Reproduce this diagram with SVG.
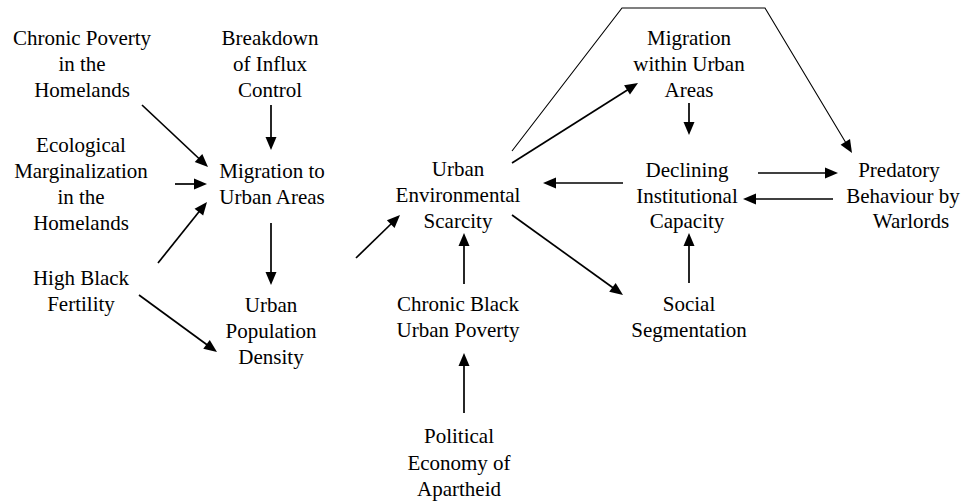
<svg xmlns="http://www.w3.org/2000/svg" width="976" height="503" viewBox="0 0 976 503">
<rect width="976" height="503" fill="#fff"/>
<g id="chronic-poverty"><text font-family="'Liberation Serif', 'Times New Roman', serif" font-size="21" text-anchor="middle" x="82" y="45">Chronic Poverty</text><text font-family="'Liberation Serif', 'Times New Roman', serif" font-size="21" text-anchor="middle" x="82" y="71">in the</text><text font-family="'Liberation Serif', 'Times New Roman', serif" font-size="21" text-anchor="middle" x="82" y="97">Homelands</text></g>
<g id="breakdown"><text font-family="'Liberation Serif', 'Times New Roman', serif" font-size="21" text-anchor="middle" x="270" y="45">Breakdown</text><text font-family="'Liberation Serif', 'Times New Roman', serif" font-size="21" text-anchor="middle" x="270" y="71">of Influx</text><text font-family="'Liberation Serif', 'Times New Roman', serif" font-size="21" text-anchor="middle" x="270" y="97">Control</text></g>
<g id="ecological"><text font-family="'Liberation Serif', 'Times New Roman', serif" font-size="21" text-anchor="middle" x="81" y="152">Ecological</text><text font-family="'Liberation Serif', 'Times New Roman', serif" font-size="21" text-anchor="middle" x="81" y="178">Marginalization</text><text font-family="'Liberation Serif', 'Times New Roman', serif" font-size="21" text-anchor="middle" x="81" y="204">in the</text><text font-family="'Liberation Serif', 'Times New Roman', serif" font-size="21" text-anchor="middle" x="81" y="230">Homelands</text></g>
<g id="migration-urban"><text font-family="'Liberation Serif', 'Times New Roman', serif" font-size="21" text-anchor="middle" x="272" y="178">Migration to</text><text font-family="'Liberation Serif', 'Times New Roman', serif" font-size="21" text-anchor="middle" x="272" y="204">Urban Areas</text></g>
<g id="high-black-fertility"><text font-family="'Liberation Serif', 'Times New Roman', serif" font-size="21" text-anchor="middle" x="81" y="285">High Black</text><text font-family="'Liberation Serif', 'Times New Roman', serif" font-size="21" text-anchor="middle" x="81" y="311">Fertility</text></g>
<g id="urban-pop-density"><text font-family="'Liberation Serif', 'Times New Roman', serif" font-size="21" text-anchor="middle" x="271" y="312">Urban</text><text font-family="'Liberation Serif', 'Times New Roman', serif" font-size="21" text-anchor="middle" x="271" y="338">Population</text><text font-family="'Liberation Serif', 'Times New Roman', serif" font-size="21" text-anchor="middle" x="271" y="364">Density</text></g>
<g id="urban-env-scarcity"><text font-family="'Liberation Serif', 'Times New Roman', serif" font-size="21" text-anchor="middle" x="458" y="176">Urban</text><text font-family="'Liberation Serif', 'Times New Roman', serif" font-size="21" text-anchor="middle" x="458" y="202">Environmental</text><text font-family="'Liberation Serif', 'Times New Roman', serif" font-size="21" text-anchor="middle" x="458" y="228">Scarcity</text></g>
<g id="chronic-black"><text font-family="'Liberation Serif', 'Times New Roman', serif" font-size="21" text-anchor="middle" x="458" y="311">Chronic Black</text><text font-family="'Liberation Serif', 'Times New Roman', serif" font-size="21" text-anchor="middle" x="458" y="337">Urban Poverty</text></g>
<g id="political-economy"><text font-family="'Liberation Serif', 'Times New Roman', serif" font-size="21" text-anchor="middle" x="459" y="443">Political</text><text font-family="'Liberation Serif', 'Times New Roman', serif" font-size="21" text-anchor="middle" x="459" y="470">Economy of</text><text font-family="'Liberation Serif', 'Times New Roman', serif" font-size="21" text-anchor="middle" x="459" y="496">Apartheid</text></g>
<g id="migration-within"><text font-family="'Liberation Serif', 'Times New Roman', serif" font-size="21" text-anchor="middle" x="689" y="45">Migration</text><text font-family="'Liberation Serif', 'Times New Roman', serif" font-size="21" text-anchor="middle" x="689" y="71">within Urban</text><text font-family="'Liberation Serif', 'Times New Roman', serif" font-size="21" text-anchor="middle" x="689" y="97">Areas</text></g>
<g id="declining"><text font-family="'Liberation Serif', 'Times New Roman', serif" font-size="21" text-anchor="middle" x="687" y="177">Declining</text><text font-family="'Liberation Serif', 'Times New Roman', serif" font-size="21" text-anchor="middle" x="687" y="203">Institutional</text><text font-family="'Liberation Serif', 'Times New Roman', serif" font-size="21" text-anchor="middle" x="687" y="228">Capacity</text></g>
<g id="social"><text font-family="'Liberation Serif', 'Times New Roman', serif" font-size="21" text-anchor="middle" x="689" y="311">Social</text><text font-family="'Liberation Serif', 'Times New Roman', serif" font-size="21" text-anchor="middle" x="689" y="337">Segmentation</text></g>
<g id="predatory"><text font-family="'Liberation Serif', 'Times New Roman', serif" font-size="21" text-anchor="middle" x="899" y="177">Predatory</text><text font-family="'Liberation Serif', 'Times New Roman', serif" font-size="21" text-anchor="middle" x="903" y="203">Behaviour by</text><text font-family="'Liberation Serif', 'Times New Roman', serif" font-size="21" text-anchor="middle" x="911" y="228">Warlords</text></g>
<g id="connectors">
<g stroke="#000" stroke-width="1.7" fill="none">
<line x1="142" y1="105" x2="200" y2="159.5"/>
<line x1="271" y1="105" x2="271" y2="139"/>
<line x1="175" y1="184" x2="196" y2="184"/>
<line x1="158" y1="263" x2="200" y2="210.5"/>
<line x1="271" y1="223" x2="271" y2="274"/>
<line x1="139" y1="295" x2="208" y2="345.5"/>
<line x1="356" y1="258" x2="392" y2="223"/>
<line x1="464" y1="284" x2="464" y2="244"/>
<line x1="464" y1="413" x2="464" y2="364"/>
<line x1="512" y1="163" x2="629" y2="89"/>
<polyline stroke-width="1.1" points="512,151 622,8 765,8 846,143"/>
<line x1="689" y1="103" x2="689" y2="124"/>
<line x1="623" y1="183" x2="554" y2="183"/>
<line x1="512" y1="215" x2="614" y2="288.5"/>
<line x1="689" y1="283" x2="689" y2="244"/>
<line x1="758" y1="173" x2="827" y2="173"/>
<line x1="833" y1="199" x2="754" y2="199"/>
</g>
<g fill="#000">
<polygon points="208,167 194.75,162.11 202.29,154.09"/>
<polygon points="271,150 265.5,137 276.5,137"/>
<polygon points="207,184 194,178.5 194,189.5"/>
<polygon points="207,202 203.15,215.58 194.57,208.70"/>
<polygon points="271,285 265.5,272 276.5,272"/>
<polygon points="217,352 203.26,348.77 209.76,339.89"/>
<polygon points="400,215 394.54,228.02 386.86,220.16"/>
<polygon points="464,233 458.5,246 469.5,246"/>
<polygon points="464,353 458.5,366 469.5,366"/>
<polygon points="638,83 629.98,94.61 624.08,85.33"/>
<polygon points="852,153 840.60,144.69 850.02,139.03"/>
<polygon points="689,135 683.5,122 694.5,122"/>
<polygon points="543,183 556,177.5 556,188.5"/>
<polygon points="623,295 609.23,291.86 615.67,282.94"/>
<polygon points="689,233 683.5,246 694.5,246"/>
<polygon points="838,173 825,167.5 825,178.5"/>
<polygon points="743,199 756,193.5 756,204.5"/>
</g>
</g>
</svg>
